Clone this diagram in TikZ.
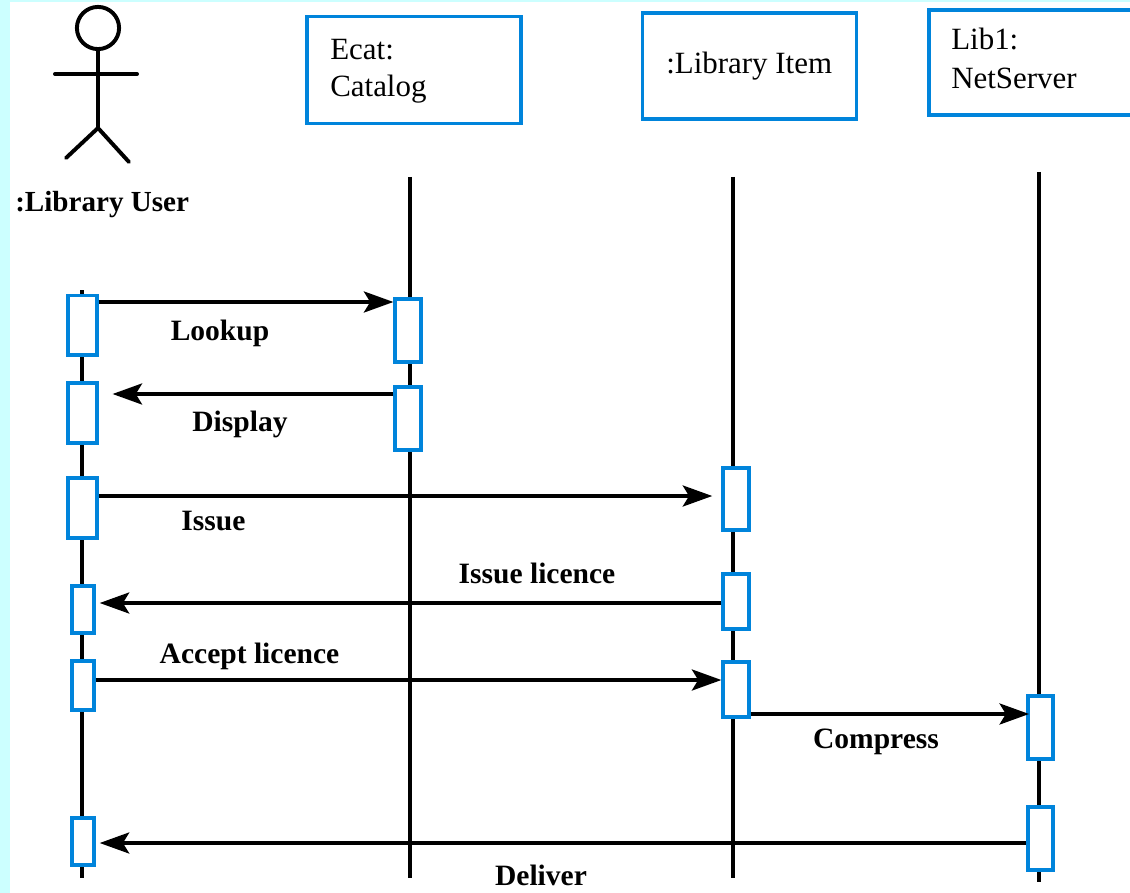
\documentclass[tikz,border=0pt]{standalone}
\usepackage{fontspec}
\setmainfont{Liberation Serif}
\usepackage{tikz}
\usetikzlibrary{arrows.meta}
\definecolor{mblue}{RGB}{0, 132, 219}
\definecolor{mcyan}{RGB}{204, 255, 255}
\tikzset{
  head/.style={draw=mblue, line width=2.6pt, minimum width=#1, inner sep=0pt, align=left},
  bar/.style={draw=mblue, fill=white, line width=2.8pt, inner sep=0pt},
  life/.style={line width=2.2pt},
  stick/.style={line width=2.8pt, line cap=round},
  msg/.style={line width=2.2pt, -{Stealth[length=21pt, width=15pt, inset=4.5pt]}},
  lab/.style={font=\fontsize{21}{25}\selectfont\bfseries, anchor=base},
  txt/.style={font=\fontsize{22}{27}\selectfont, anchor=base west, inner sep=0pt}
}

\begin{document}
\begin{tikzpicture}[x=0.025cm, y=-0.025cm]
      \useasboundingbox (0, 0) rectangle (1130, 893);
      \fill [mcyan] (0, 0) rectangle (1130, 893);
      \fill [white] (10, 2) rectangle (1130, 893);

      % actor
      \node (face) at (98, 28) [circle, draw, line width=2.8pt, minimum size=30pt, inner sep=0pt] {};
      \coordinate (hip) at (98, 128);
      \coordinate (armL) at (55, 74);
      \coordinate (armR) at (137, 74);
      \coordinate (footL) at (66, 158);
      \coordinate (footR) at (129, 162);
      \draw [stick] (face) -- (hip);
      \draw [stick] (armL) -- (armR);
      \draw [stick] (footL) -- (hip) -- (footR);
      \node (user) at (15, 211) [txt, font=\fontsize{20.7}{25}\selectfont\bfseries] {:Library User};

      % header boxes
      \node (ecat) at (414, 70) [head=152pt, minimum height=76pt] {};
      \node (item) at (749.5, 66) [head=152pt, minimum height=75pt] {};
      \node (net) at (1040, 62.5) [head=158pt, minimum height=75pt] {};
      \node (ecatA) at (330, 60) [txt] {Ecat:};
      \node (ecatB) at (330, 97) [txt] {Catalog};
      \node (itemA) at (666, 74) [txt] {:Library Item};
      \node (netA) at (951, 50) [txt] {Lib1:};
      \node (netB) at (951, 89) [txt] {NetServer};

      % life lines
      \coordinate (u0) at (82, 290);
      \coordinate (u9) at (82, 878);
      \coordinate (c0) at (410, 177);
      \coordinate (c9) at (410, 878);
      \coordinate (i0) at (733, 177);
      \coordinate (i9) at (733, 878);
      \coordinate (n0) at (1039, 172);
      \coordinate (n9) at (1039, 882);
      \draw [life] (u0) -- (u9);
      \draw [life] (c0) -- (c9);
      \draw [life] (i0) -- (i9);
      \draw [life] (n0) -- (n9);

      % activations
      \node (u1) at (82.5, 325) [bar, minimum width=20pt, minimum height=42pt] {};
      \node (u2) at (82.5, 413) [bar, minimum width=20pt, minimum height=43pt] {};
      \node (u3) at (82.5, 508) [bar, minimum width=20pt, minimum height=43pt] {};
      \node (u4) at (83, 609.5) [bar, minimum width=15pt, minimum height=34pt] {};
      \node (u5) at (83, 685.5) [bar, minimum width=15pt, minimum height=35pt] {};
      \node (u6) at (83, 841.5) [bar, minimum width=15pt, minimum height=34pt] {};
      \node (c1) at (408, 330.5) [bar, minimum width=18pt, minimum height=45pt] {};
      \node (c2) at (408, 418.5) [bar, minimum width=18pt, minimum height=45pt] {};
      \node (i1) at (736, 499) [bar, minimum width=18pt, minimum height=44pt] {};
      \node (i2) at (736, 601.5) [bar, minimum width=18pt, minimum height=39pt] {};
      \node (i3) at (736, 689.5) [bar, minimum width=18pt, minimum height=39pt] {};
      \node (n1) at (1040.5, 727.5) [bar, minimum width=17.5pt, minimum height=45pt] {};
      \node (n2) at (1040.5, 838.5) [bar, minimum width=17.5pt, minimum height=45pt] {};

      % messages
      \coordinate (m1) at (0, 302);
      \coordinate (m2) at (0, 394);
      \coordinate (m3) at (0, 496);
      \coordinate (m4) at (0, 603);
      \coordinate (m5) at (0, 680);
      \coordinate (m6) at (0, 714);
      \coordinate (m7) at (0, 843);
      \draw [msg] (u1.east |- m1) -- (c1.west |- m1);
      \draw [msg, shorten >=10pt] (c2.west |- m2) -- (u2.east |- m2);
      \draw [msg, shorten >=6.5pt] (u3.east |- m3) -- (i1.west |- m3);
      \draw [msg, shorten >=3pt] (i2.west |- m4) -- (u4.east |- m4);
      \draw [msg] (u5.east |- m5) -- (i3.west |- m5);
      \draw [msg, shorten >=-2pt] (i3.east |- m6) -- (n1.west |- m6);
      \draw [msg, shorten >=3pt] (n2.west |- m7) -- (u6.east |- m7);

      \node (lookup) at (220, 340) [lab] {Lookup};
      \node (display) at (240, 431) [lab] {Display};
      \node (issue) at (213.5, 530) [lab] {Issue};
      \node (licence) at (537, 583) [lab] {Issue licence};
      \node (accept) at (249.5, 663) [lab] {Accept licence};
      \node (compress) at (876, 748) [lab] {Compress};
      \node (deliver) at (541, 885) [lab] {Deliver};
    \end{tikzpicture}
\end{document}
